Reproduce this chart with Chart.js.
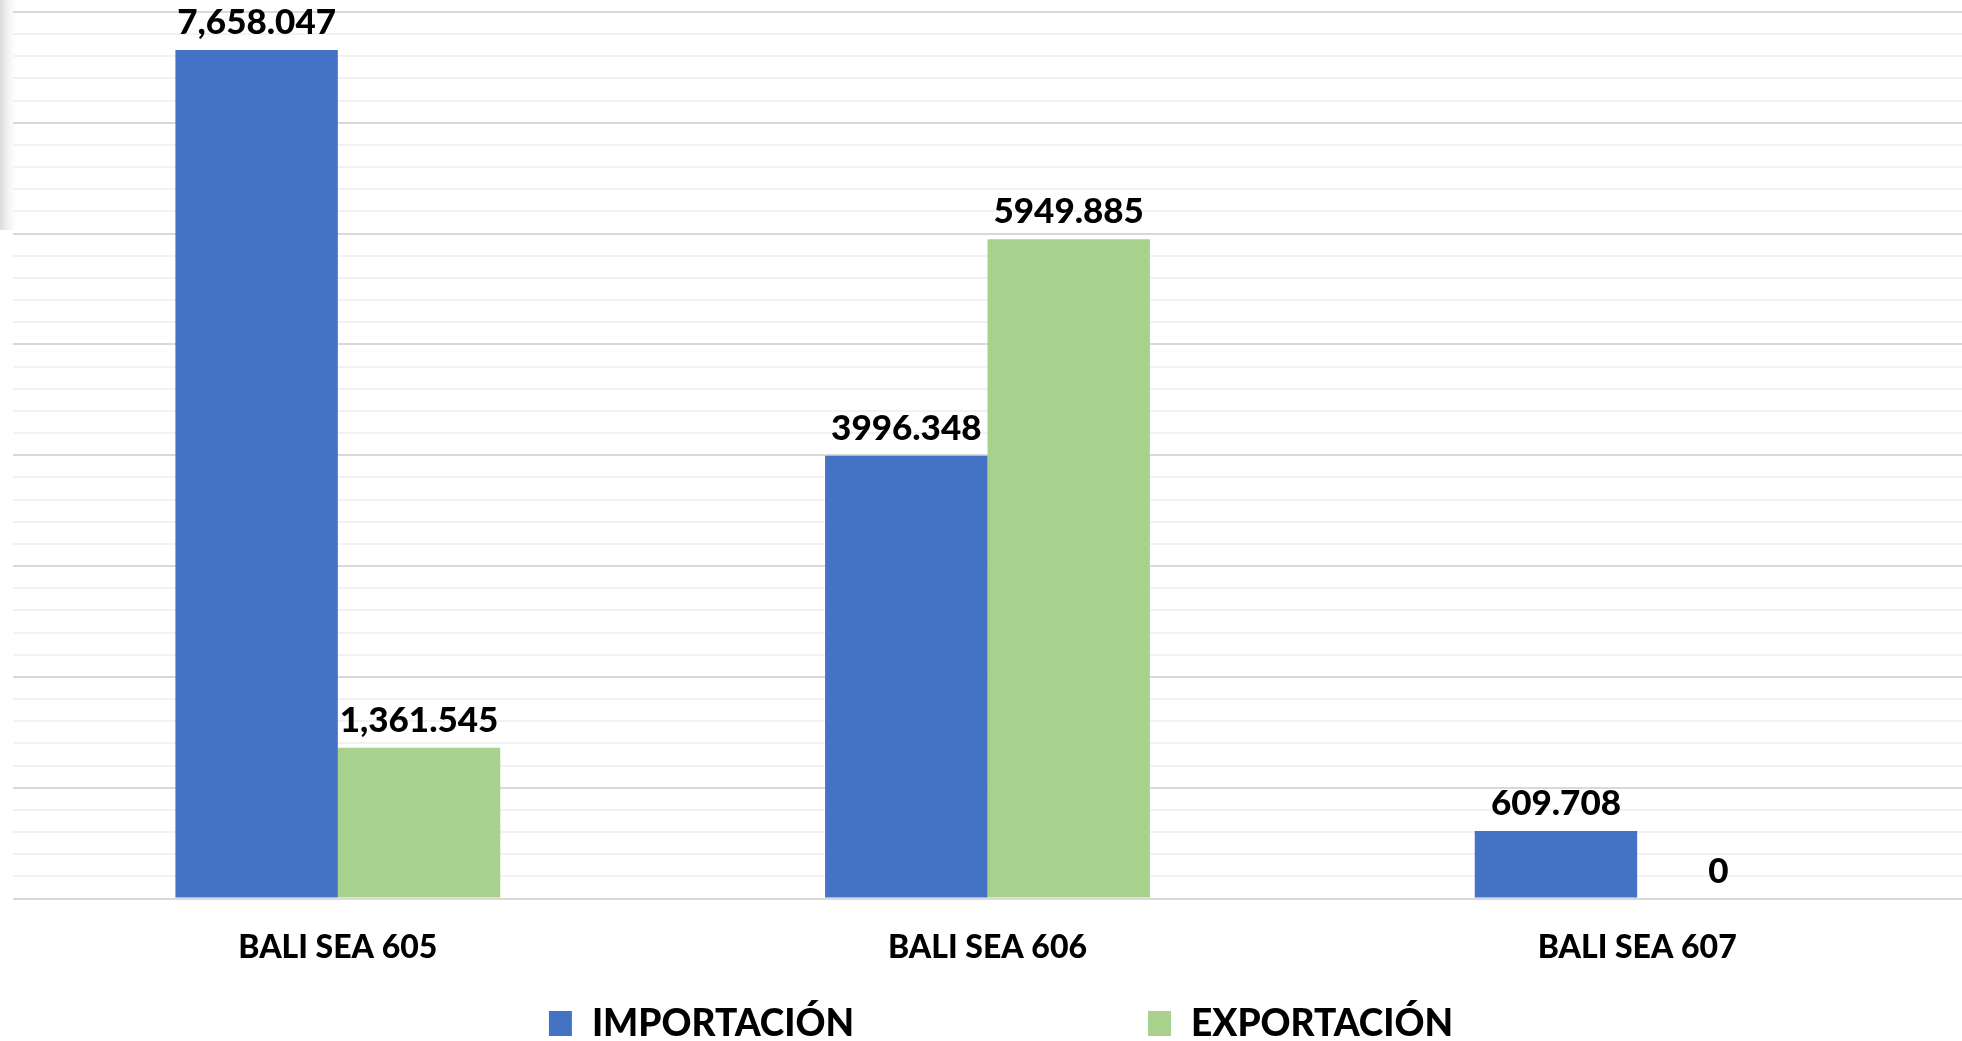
<!DOCTYPE html>
<html>
<head>
<meta charset="utf-8">
<title>Importación / Exportación</title>
<script src="https://cdn.jsdelivr.net/npm/chart.js@4/dist/chart.umd.min.js"></script>
<style>
  html, body { margin: 0; padding: 0; background: #ffffff; }
  #caja { width: 1962px; height: 1041px; position: relative; }
</style>
</head>
<body>
<div id="caja"><canvas id="grafico"></canvas></div>
<script>

/* Datos del gráfico */

var categorias = ['BALI SEA 605', 'BALI SEA 606', 'BALI SEA 607'];
var nombres_series = ['IMPORTACIÓN', 'EXPORTACIÓN'];
var importacion = [7658.047, 3996.348, 609.708];
var exportacion = [1361.545, 5949.885, 0];
var etiquetas_importacion = ['7,658.047', '3996.348', '609.708'];
var etiquetas_exportacion = ['1,361.545', '5949.885', '0'];
var eje_max = 8000;
var paso_menor = 200;
var paso_mayor = 1000;

var azul = '#4472C4';
var verde = '#A9D18E';
var fuente = 'Lato, "Open Sans", sans-serif';

/* Sombra gris a la izquierda (como en la captura) */

var sombra = {
    id: 'sombra',
    beforeDraw: function (chart) {
        var ctx = chart.ctx;
        ctx.save();
        var g = ctx.createLinearGradient(0, 0, 16, 0);
        g.addColorStop(0, 'rgba(215,215,215,0.9)');
        g.addColorStop(1, 'rgba(235,235,235,0)');
        ctx.fillStyle = g;
        ctx.fillRect(0, 0, 16, 230);
        ctx.restore();
    }
};

/* Etiquetas encima de cada barra */

var etiquetas = {
    id: 'etiquetas',
    afterDatasetsDraw: function (chart) {
        var ctx = chart.ctx;
        var textos = [etiquetas_importacion, etiquetas_exportacion];
        ctx.save();
        ctx.font = '900 35px ' + fuente;
        ctx.fillStyle = '#000000';
        ctx.textAlign = 'center';
        ctx.textBaseline = 'alphabetic';
        chart.data.datasets.forEach(function (ds, i) {
            var meta = chart.getDatasetMeta(i);
            meta.data.forEach(function (barra, j) {
                ctx.fillText(textos[i][j], barra.x, barra.y - 16);
            });
        });
        ctx.restore();
    }
};

/* Leyenda dibujada a mano abajo */

var leyenda = {
    id: 'leyenda',
    afterDraw: function (chart) {
        var ctx = chart.ctx;
        var caja = 23, sep = 20, hueco = 294;
        var y = 1023;
        ctx.save();
        ctx.font = '900 37px ' + fuente;
        var anchos = chart.data.datasets.map(function (ds) {
            return ctx.measureText(ds.label).width;
        });
        var total = caja + sep + anchos[0] + hueco + caja + sep + anchos[1];
        var x = chart.width / 2 + 20 - total / 2;
        chart.data.datasets.forEach(function (ds, i) {
            ctx.fillStyle = ds.backgroundColor;
            ctx.fillRect(x, y - 12, caja, 25);
            ctx.fillStyle = '#000000';
            ctx.textAlign = 'left';
            ctx.textBaseline = 'middle';
            ctx.fillText(ds.label, x + caja + sep, y + 1);
            x += caja + sep + anchos[i] + hueco;
        });
        ctx.restore();
    }
};

/* Gráfico de barras */

var ctx = document.getElementById('grafico').getContext('2d');
var miGrafico = new Chart(ctx, {
    type: 'bar',
    data: {
        labels: categorias,
        datasets: [{
            label: nombres_series[0],
            data: importacion,
            backgroundColor: azul,
            borderWidth: 0
        }, {
            label: nombres_series[1],
            data: exportacion,
            backgroundColor: verde,
            borderWidth: 0
        }]
    },
    options: {
        responsive: true,
        maintainAspectRatio: false,
        animation: false,
        layout: {
            padding: { left: 13, right: 0, top: 12, bottom: 44 }
        },
        datasets: {
            bar: { categoryPercentage: 0.5, barPercentage: 1.0 }
        },
        plugins: {
            legend: { display: false },
            tooltip: { enabled: false }
        },
        scales: {
            x: {
                grid: { display: false, drawTicks: false },
                border: { display: false },
                ticks: {
                    color: '#000000',
                    padding: 30,
                    font: { family: fuente, size: 32, weight: '900' }
                }
            },
            y: {
                min: 0,
                max: eje_max,
                border: { display: false },
                grid: {
                    drawTicks: false,
                    lineWidth: 2,
                    color: function (c) {
                        return c.tick && c.tick.value % paso_mayor === 0 ? '#d9d9d9' : '#f2f2f2';
                    }
                },
                ticks: { display: false, stepSize: paso_menor }
            }
        }
    },
    plugins: [sombra, etiquetas, leyenda]
});
</script>
</body>
</html>
